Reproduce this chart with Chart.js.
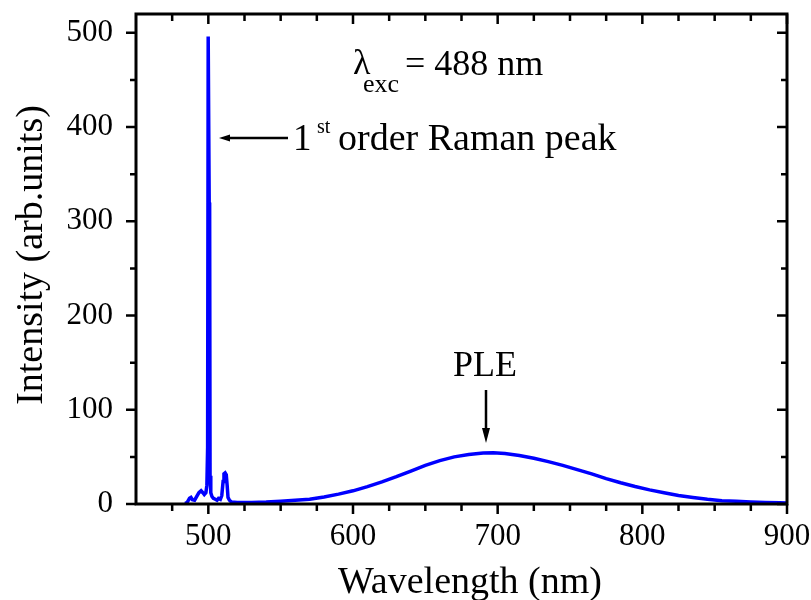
<!DOCTYPE html>
<html>
<head>
<meta charset="utf-8">
<title>PLE</title>
<script src="https://cdn.jsdelivr.net/npm/chart.js@4.4.0/dist/chart.umd.min.js"></script>
<style>
    body { margin: 0; background: white; }
    #caixa { width: 811px; height: 600px; position: relative; }
</style>
</head>
<body>
<div id="caixa"><canvas id="chart_ple"></canvas></div>
<script>
// dados
const wavelength = [484, 485.5, 487, 488, 489, 490.5, 492, 493.5, 495, 496.2, 497.2, 498.3, 499, 499.5, 499.9, 500.3, 500.6, 500.9, 501.2, 501.7,
    502.5, 503.5, 504.8, 506, 507, 508.3, 509.3, 510.2, 510.8, 511.6, 512.4, 513, 513.6, 514.6, 516, 520, 530, 540, 550, 560,
    570, 580, 590, 600, 610, 620, 630, 640, 650, 660, 670, 680, 690, 697, 705, 715, 725, 735, 745, 755,
    765, 775, 785, 795, 805, 815, 825, 835, 845, 855, 865, 875, 885, 895, 900];
const intensity = [0.5, 2, 6, 7, 4.5, 4, 8, 12, 14, 12, 10, 12, 20, 60, 496, 496, 320, 318, 30, 12,
    8, 6, 5, 4, 6, 5, 9, 24, 32, 33, 31, 20, 7, 4, 2, 1.5, 1.5, 2, 3, 4,
    5, 7.5, 10.5, 14, 18.5, 23.5, 29, 35, 41, 46, 50, 52.5, 54, 54.5, 53.5, 51.5, 48.5, 45, 41, 36.5,
    32, 27, 22.5, 18.5, 15, 12, 9, 7, 5, 3.5, 2.8, 2, 1.5, 1.2, 1];

const x_ticks = [500, 600, 700, 800, 900];
const x_minor = [475, 525, 550, 575, 625, 650, 675, 725, 750, 775, 825, 850, 875];
const y_ticks = [0, 100, 200, 300, 400, 500];
const y_minor = [50, 150, 250, 350, 450];

const fonte = '"Liberation Serif", "Times New Roman", serif';

function desenharTexto(ctx, texto, x, y, tamanho, alinhar) {
    ctx.font = tamanho + 'px ' + fonte;
    ctx.textAlign = alinhar || 'left';
    ctx.textBaseline = 'alphabetic';
    ctx.fillText(texto, x, y);
}

function semMargem(s) {
    s.paddingTop = 0;
    s.paddingBottom = 0;
    s.paddingLeft = 0;
    s.paddingRight = 0;
}

// moldura, marcas e anotacoes
const moldura = {
    id: 'moldura',
    afterDraw(chart) {
        const ctx = chart.ctx;
        const a = chart.chartArea;
        const sx = chart.scales.x;
        const sy = chart.scales.y;
        ctx.save();
        ctx.strokeStyle = 'black';
        ctx.fillStyle = 'black';
        ctx.lineWidth = 3;
        ctx.strokeRect(a.left, a.top, a.right - a.left, a.bottom - a.top);

        ctx.lineWidth = 2.5;
        function marcaX(v, tam) {
            const px = sx.getPixelForValue(v);
            ctx.beginPath();
            ctx.moveTo(px, a.bottom); ctx.lineTo(px, a.bottom + tam);
            ctx.moveTo(px, a.top); ctx.lineTo(px, a.top + tam);
            ctx.stroke();
        }
        function marcaY(v, tam) {
            const py = sy.getPixelForValue(v);
            ctx.beginPath();
            ctx.moveTo(a.left, py); ctx.lineTo(a.left - tam, py);
            ctx.moveTo(a.right, py); ctx.lineTo(a.right - tam, py);
            ctx.stroke();
        }
        x_ticks.forEach(v => marcaX(v, 10));
        x_minor.forEach(v => marcaX(v, 7));
        y_ticks.forEach(v => marcaY(v, 10));
        y_minor.forEach(v => marcaY(v, 6));

        // titulos dos eixos
        desenharTexto(ctx, 'Wavelength (nm)', 470, 593, 38, 'center');
        ctx.save();
        ctx.translate(42, 255);
        ctx.rotate(-Math.PI / 2);
        desenharTexto(ctx, 'Intensity (arb.units)', 0, 0, 38, 'center');
        ctx.restore();

        // lambda
        desenharTexto(ctx, 'λ', 353, 74, 36);
        desenharTexto(ctx, 'exc', 363, 92, 26);
        desenharTexto(ctx, '= 488 nm', 405, 75, 36);

        // Raman
        desenharTexto(ctx, '1', 293, 150, 37);
        desenharTexto(ctx, 'st', 317, 133, 20);
        desenharTexto(ctx, 'order Raman peak', 338, 150, 38);
        ctx.beginPath();
        ctx.moveTo(226, 138); ctx.lineTo(288, 138);
        ctx.stroke();
        ctx.beginPath();
        ctx.moveTo(219, 138); ctx.lineTo(230, 134.5); ctx.lineTo(230, 141.5); ctx.closePath();
        ctx.fill();

        // PLE
        desenharTexto(ctx, 'PLE', 485, 376, 36, 'center');
        ctx.beginPath();
        ctx.moveTo(486, 390); ctx.lineTo(486, 432);
        ctx.stroke();
        ctx.beginPath();
        ctx.moveTo(482, 428); ctx.lineTo(490, 428); ctx.lineTo(486, 443); ctx.closePath();
        ctx.fill();
        ctx.restore();
    }
};

// GRAFICO
function criarGrafico() {
    const ctx = document.getElementById('chart_ple');

    new Chart(ctx, {
        type: 'line',
        data: {
            datasets: [{
                data: wavelength.map((w, i) => ({ x: w, y: intensity[i] })),
                borderColor: '#0000ff',
                borderWidth: 3.5,
                pointRadius: 0,
                tension: 0,
                fill: false
            }]
        },
        options: {
            responsive: true,
            maintainAspectRatio: false,
            animation: false,
            devicePixelRatio: 1,
            layout: {
                padding: { top: 14, right: 24, left: 0, bottom: 0 }
            },
            scales: {
                x: {
                    type: 'linear',
                    min: 450,
                    max: 900,
                    afterFit: s => { s.height = 96; semMargem(s); },
                    afterBuildTicks: s => { s.ticks = x_ticks.map(v => ({ value: v })); },
                    border: { display: false },
                    grid: { display: false, drawTicks: false },
                    ticks: {
                        color: 'black',
                        padding: 14,
                        maxRotation: 0,
                        font: { family: fonte, size: 31 }
                    }
                },
                y: {
                    min: 0,
                    max: 520,
                    afterFit: s => { s.width = 136; semMargem(s); },
                    afterBuildTicks: s => { s.ticks = y_ticks.map(v => ({ value: v })); },
                    border: { display: false },
                    grid: { display: false, drawTicks: false },
                    ticks: {
                        color: 'black',
                        padding: 23,
                        font: { family: fonte, size: 31 }
                    }
                }
            },
            plugins: {
                legend: { display: false },
                tooltip: { enabled: false }
            }
        },
        plugins: [moldura]
    });
}

criarGrafico();
</script>
</body>
</html>
